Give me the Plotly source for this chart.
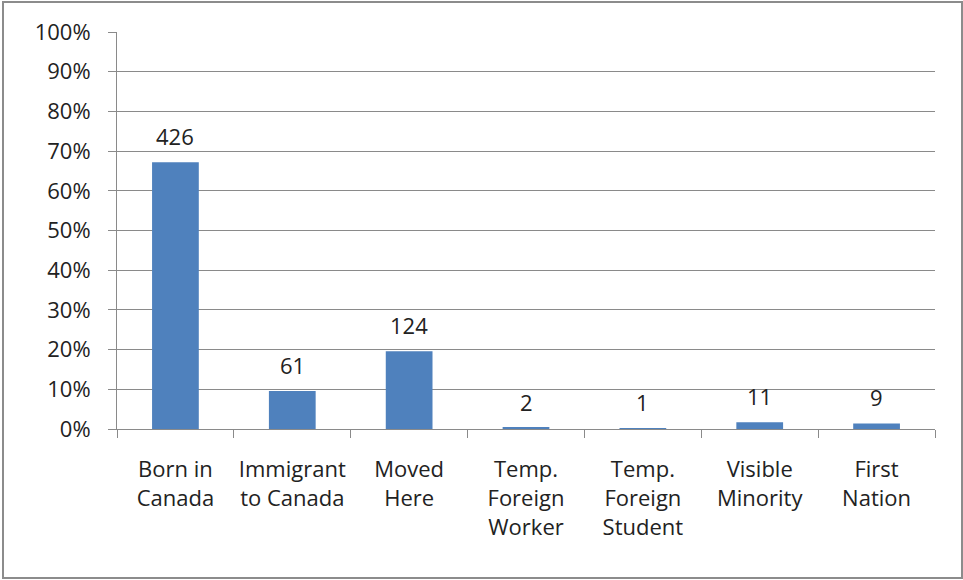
import plotly.graph_objects as go

categories = ["Born in<br>Canada", "Immigrant<br>to Canada", "Moved<br>Here",
              "Temp.<br>Foreign<br>Worker", "Temp.<br>Foreign<br>Student",
              "Visible<br>Minority", "First<br>Nation"]
counts = [426, 61, 124, 2, 1, 11, 9]
percent = [67.2, 9.6, 19.6, 0.3, 0.2, 1.7, 1.4]
y_ticks = [0, 10, 20, 30, 40, 50, 60, 70, 80, 90, 100]
y_tick_text = [f"{v}%" for v in y_ticks]

W, H = 963, 580
L, R, T, B = 117, 28, 32, 151
pw, ph = W - L - R, H - T - B
FONT = "Open Sans"
FS = 22
TXT = "#222222"
GRID = "#8a8a8a"

fig = go.Figure()
fig.add_trace(go.Bar(
    x=categories, y=percent, width=0.4,
    marker=dict(color="#4f81bd", line=dict(width=0)),
    hoverinfo="skip",
))

for c, p, n in zip(categories, percent, counts):
    fig.add_annotation(x=c, y=p, text=str(n), showarrow=False,
                       yanchor="bottom", yshift=9,
                       font=dict(family=FONT, size=FS, color=TXT))

fig.add_shape(type="rect", xref="paper", yref="paper",
              x0=(3 - L) / pw, x1=(962 - L) / pw,
              y0=-(578 - (H - B)) / ph, y1=((H - B) - 2) / ph,
              line=dict(color="#8c8c8c", width=2), layer="below")

fig.update_layout(
    width=W, height=H,
    margin=dict(l=L, r=R, t=T, b=B, pad=0),
    paper_bgcolor="white", plot_bgcolor="white",
    showlegend=False,
    font=dict(family=FONT, size=FS, color=TXT),
)
fig.update_xaxes(
    type="category", tickson="boundaries", ticks="outside", ticklen=8,
    tickcolor=GRID, showline=True, linecolor=GRID, linewidth=1,
    showgrid=False, ticklabelstandoff=21,
    tickfont=dict(family=FONT, size=FS, color=TXT),
)
fig.update_yaxes(
    range=[0, 100], tickmode="array", tickvals=y_ticks, ticktext=y_tick_text,
    ticks="outside", ticklen=8, tickcolor=GRID,
    showline=True, linecolor=GRID, linewidth=1, ticklabelstandoff=13,
    showgrid=True, gridcolor=GRID, gridwidth=1, zeroline=False,
    tickfont=dict(family=FONT, size=FS, color=TXT),
)

fig.write_html("out.html", config={"displayModeBar": False},
               post_script="document.body.style.margin='0';")
